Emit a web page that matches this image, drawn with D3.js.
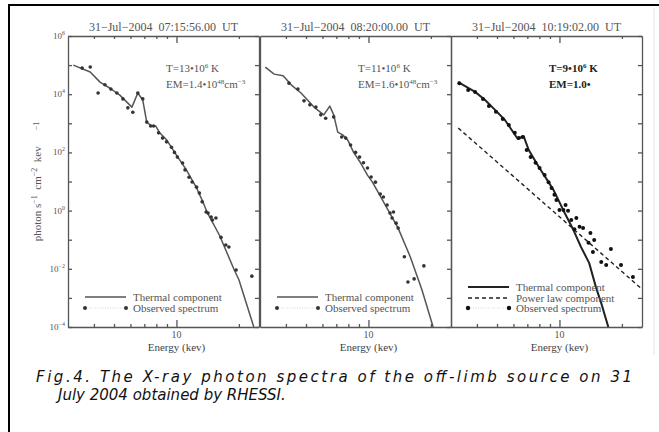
<!DOCTYPE html>
<html lang="en">
<head>
<meta charset="utf-8">
<title>RHESSI photon spectra</title>
<script src="https://cdn.jsdelivr.net/npm/d3@7"></script>
<style>
body { margin: 0; background: #fff; }
svg text { font-family: "Liberation Serif", "DejaVu Serif", serif; fill: #555; }
.caption { font-family: "DejaVu Sans", sans-serif; font-style: italic; fill: #111; font-size: 15px; }
.axis path, .axis line { stroke: #555; stroke-width: 1.3; }
</style>
</head>
<body>
<script>
// panel headers and fit parameters
var titles = ["31\u2212Jul\u22122004  07:15:56.00  UT", "31\u2212Jul\u22122004  08:20:00.00  UT", "31\u2212Jul\u22122004  10:19:02.00  UT"];
var temps = ["13", "11", "9"];
var ems = ["1.4", "1.6", "1.0"];
var energyTicks = [4, 5, 6, 7, 8, 9, 10, 20];
var fluxDecades = [-4, -3, -2, -1, 0, 1, 2, 3, 4, 5, 6];
var fluxLabels = [-4, -2, 0, 2, 4, 6];

// 07:15:56
var obsE1 = [3.51, 3.84, 4.19, 4.52, 4.83, 5.16, 5.52, 5.83, 6.16, 6.51, 6.88, 7.19, 7.51, 7.76, 8.20, 8.57, 8.96, 9.46, 9.78, 10.1, 10.7, 11.0, 11.5, 11.9, 12.5, 12.9, 13.3, 13.9, 14.2, 14.7, 14.9, 15.5, 16.4, 17.3, 17.9, 19.4, 23.1];
var obsF1 = [7.9e4, 8.6e4, 1.1e4, 2.1e4, 1.5e4, 1.1e4, 6.9e3, 3.4e3, 2.4e3, 1.1e4, 6.9e3, 1.1e3, 810, 810, 470, 310, 230, 150, 100, 69, 43, 25, 14, 9.6, 6.4, 4.0, 2.0, 0.9, 0.83, 0.60, 0.475, 0.56, 0.12, 0.066, 0.056, 0.0091, 0.0056];
var thE1 = [3.18, 3.84, 4.28, 4.78, 5.33, 6.10, 6.51, 6.88, 7.19, 7.59, 7.94, 8.30, 8.96, 10, 11.16, 12.5, 13.3, 14.1, 16.1, 19.0, 20.0, 23.6];
var thF1 = [1e5, 5.8e4, 2.6e4, 1.6e4, 9.3e3, 3.6e3, 1.1e4, 6.3e3, 1.1e3, 810, 810, 470, 270, 81, 25, 6.0, 2.3, 0.83, 0.145, 0.0091, 0.0042, 1e-4];

// 08:20:00
var obsE2 = [4.14, 4.57, 4.89, 5.22, 5.58, 5.89, 6.22, 6.80, 7.43, 7.77, 8.20, 8.67, 9.06, 9.46, 9.89, 10.3, 10.8, 11.4, 11.8, 12.3, 12.7, 13.2, 13.0, 13.6, 13.9, 14.9, 15.5, 16.6, 18.5];
var obsF2 = [2.4e4, 1.5e4, 5.9e3, 4.3e3, 3.6e3, 1.95e3, 1.5e3, 1.66e3, 340, 310, 180, 100, 69, 44, 29, 14.3, 9.5, 3.7, 2.95, 1.55, 0.83, 0.89, 0.56, 0.37, 0.25, 0.026, 0.0035, 0.0045, 0.0126];
var thE2 = [3.18, 3.51, 3.88, 4.24, 4.73, 5.46, 6.09, 6.51, 6.80, 7.11, 7.51, 7.94, 8.48, 9.16, 9.89, 10.45, 12.06, 13.9, 15.9, 18.1, 20.5];
var thF2 = [8.5e4, 4.9e4, 4.3e4, 2.1e4, 1.1e4, 3.6e3, 1.95e3, 3.9e3, 1.95e3, 500, 400, 270, 100, 44, 16.6, 9.5, 1.55, 0.25, 0.026, 0.0019, 1e-4];

// 10:19:02
var obsE3 = [3.29, 3.63, 3.92, 4.28, 4.57, 4.94, 5.33, 5.70, 6.09, 6.37, 6.65, 6.95, 7.26, 7.67, 8.02, 8.48, 8.86, 9.16, 9.46, 9.67, 10.0, 10.45, 10.7, 11.0, 11.4, 12.06, 11.8, 12.5, 13.0, 13.8, 14.1, 14.7, 14.5, 15.9, 16.8, 17.7, 19.8, 22.6];
var obsF3 = [2.4e4, 1.4e4, 1.2e4, 6.9e3, 3.9e3, 2.5e3, 1.4e3, 870, 470, 310, 340, 120, 69, 44, 29, 16.6, 9.5, 6.0, 3.5, 2.3, 1.05, 1.05, 1.55, 0.98, 0.48, 0.56, 0.23, 0.28, 0.25, 0.078, 0.17, 0.098, 0.038, 0.017, 0.0135, 0.048, 0.0135, 0.0052];
var thE3 = [3.25, 3.51, 3.92, 4.38, 4.89, 5.46, 6.30, 6.72, 7.11, 7.94, 8.86, 9.36, 9.89, 10.6, 11.7, 12.7, 13.9, 15.0, 15.9, 17.2];
var thF3 = [2.6e4, 1.9e4, 1.2e4, 6.3e3, 2.9e3, 1.3e3, 290, 360, 120, 32, 9.5, 5.1, 2.3, 0.83, 0.21, 0.056, 0.016, 0.0023, 6.6e-4, 1e-4];
var powE3 = [3.25, 25.2];
var powF3 = [690, 0.0019];

var w = 659, h = 432;
var plotTop = 36, plotBottom = 327, pw = 191;
var panelLeft = [68, 260, 451];

var pairs = function(a, b) { return a.map(function(v, i) { return [v, b[i]]; }); };
var panels = [
  {obs: pairs(obsE1, obsF1), th: pairs(thE1, thF1), pow: null},
  {obs: pairs(obsE2, obsF2), th: pairs(thE2, thF2), pow: null},
  {obs: pairs(obsE3, obsF3), th: pairs(thE3, thF3), pow: pairs(powE3, powF3)}
];

var svg = d3.select("body").append("svg").attr("width", w).attr("height", h);

// outer frame (runs off the page to the right and bottom)
svg.append("path").attr("d", "M9,432 L9,5 L659,5").attr("fill", "none").attr("stroke", "#000").attr("stroke-width", 2);
svg.append("line").attr("x1", 654).attr("x2", 654).attr("y1", 8).attr("y2", 355).attr("stroke", "#e4e4e4");

var y = d3.scaleLog().domain([1e-4, 1e6]).range([plotBottom, plotTop]);

function sup(t, base, s, dy) {
  t.append("tspan").text(base);
  t.append("tspan").attr("dy", -(dy || 4)).style("font-size", "7px").text(s);
  return t;
}

panels.forEach(function(p, i) {
  var x0 = panelLeft[i];
  var x = d3.scaleLog().domain([3, 25]).range([x0, x0 + pw]);
  var g = svg.append("g");
  var dark = i === 2;

  g.append("clipPath").attr("id", "clip" + i).append("rect")
    .attr("x", x0).attr("y", plotTop).attr("width", pw).attr("height", plotBottom - plotTop);

  // axes
  var gb = g.append("g").attr("class", "axis").attr("transform", "translate(0," + plotBottom + ")")
    .call(d3.axisBottom(x).tickValues(energyTicks).tickSizeInner(-3).tickSizeOuter(0).tickFormat(""));
  gb.selectAll(".tick line").filter(function(d) { return d === 10; }).attr("y2", -7);
  var gt = g.append("g").attr("class", "axis").attr("transform", "translate(0," + plotTop + ")")
    .call(d3.axisTop(x).tickValues(energyTicks).tickSizeInner(-3).tickSizeOuter(0).tickFormat(""));
  gt.selectAll(".tick line").filter(function(d) { return d === 10; }).attr("y2", 7);
  var decVals = fluxDecades.map(function(e) { return Math.pow(10, e); });
  g.append("g").attr("class", "axis").attr("transform", "translate(" + (x0 + pw) + ",0)")
    .call(d3.axisRight(y).tickValues(decVals).tickSizeInner(-4).tickSizeOuter(0).tickFormat(""));
  g.append("g").attr("class", "axis").attr("transform", "translate(" + x0 + ",0)")
    .call(d3.axisLeft(y).tickValues(i === 0 ? decVals : []).tickSizeInner(-4).tickSizeOuter(0).tickFormat(""));
  g.selectAll(".axis path").attr("stroke-width", 1.8);

  g.append("text").attr("x", x(10)).attr("y", 338).attr("text-anchor", "middle").style("font-size", "10px").text("10");
  g.append("text").attr("x", x(10)).attr("y", 351).attr("text-anchor", "middle").style("font-size", "11px").style("fill", "#444").text("Energy (kev)");

  g.append("text").attr("x", x0 + pw / 2).attr("y", 31).attr("text-anchor", "middle")
    .style("font-size", "12px").style("white-space", "pre").text(titles[i]);

  // fit parameters
  var ann = g.append("g").style("font-size", "11px");
  var t1 = ann.append("text").attr("x", x0 + 98).attr("y", 72).style("font-weight", dark ? "bold" : "normal").style("fill", dark ? "#222" : "#555");
  sup(t1, "T=" + temps[i] + "\u202210", "6");
  t1.append("tspan").attr("dy", 4).text(" K");
  var t2 = ann.append("text").attr("x", x0 + 98).attr("y", 88).style("font-weight", dark ? "bold" : "normal").style("fill", dark ? "#222" : "#555");
  if (dark) {
    t2.text("EM=" + ems[i] + "\u2022");
  } else {
    sup(t2, "EM=" + ems[i] + "\u202210", "48");
    t2.append("tspan").attr("dy", 4).text("cm");
    t2.append("tspan").attr("dy", -4).style("font-size", "7px").text("\u22123");
  }

  var plot = g.append("g").attr("clip-path", "url(#clip" + i + ")");
  var line = d3.line().x(function(d) { return x(d[0]); }).y(function(d) { return y(d[1]); });

  if (p.pow) {
    plot.append("path").datum(p.pow).attr("d", line).attr("fill", "none")
      .attr("stroke", "#222").attr("stroke-width", 1.4).attr("stroke-dasharray", "4,3");
  }
  plot.append("path").datum(p.th).attr("d", line).attr("fill", "none")
    .attr("stroke", dark ? "#222" : "#555").attr("stroke-width", dark ? 2 : 1.5).attr("stroke-linejoin", "round");
  plot.selectAll("circle").data(p.obs).enter().append("circle")
    .attr("cx", function(d) { return x(d[0]); })
    .attr("cy", function(d) { return y(d[1]); })
    .attr("r", dark ? 2 : 1.8)
    .attr("fill", dark ? "#111" : "#333");

  // legend
  var rows = dark ? [287, 298, 308] : [297, 308];
  var leg = g.append("g").style("font-size", "11px");
  var lx1 = x0 + 17, lx2 = x0 + 58, tx = x0 + 65;
  leg.append("line").attr("x1", lx1).attr("x2", lx2).attr("y1", rows[0]).attr("y2", rows[0])
    .attr("stroke", dark ? "#222" : "#555").attr("stroke-width", dark ? 2 : 1.5);
  leg.append("text").attr("x", tx).attr("y", rows[0] + 3.5).text("Thermal component");
  if (dark) {
    leg.append("line").attr("x1", lx1).attr("x2", lx2).attr("y1", rows[1]).attr("y2", rows[1])
      .attr("stroke", "#222").attr("stroke-width", 1.4).attr("stroke-dasharray", "4,3");
    leg.append("text").attr("x", tx).attr("y", rows[1] + 3.5).text("Power law component");
  }
  var ry = rows[rows.length - 1];
  leg.append("line").attr("x1", lx1).attr("x2", lx2).attr("y1", ry).attr("y2", ry)
    .attr("stroke", "#ccc").attr("stroke-width", 0.8).attr("stroke-dasharray", "1,1.5");
  leg.selectAll("circle").data([lx1, lx2]).enter().append("circle")
    .attr("cx", function(d) { return d; }).attr("cy", ry).attr("r", dark ? 2.2 : 2)
    .attr("fill", dark ? "#111" : "#333");
  leg.append("text").attr("x", tx).attr("y", ry + 3.5).text("Observed spectrum");
});

// flux tick labels on the first panel
fluxLabels.forEach(function(e) {
  var t = svg.append("text").attr("x", 65).attr("y", y(Math.pow(10, e)) + 3).attr("text-anchor", "end").style("font-size", "9px");
  t.append("tspan").text("10");
  t.append("tspan").attr("dy", -4).style("font-size", "6px").text(e < 0 ? "\u2212" + (-e) : String(e));
});

// y title
var yl = svg.append("text").attr("transform", "translate(41," + ((plotTop + plotBottom) / 2) + ") rotate(-90)")
  .attr("text-anchor", "middle").style("font-size", "11px").style("white-space", "pre");
yl.append("tspan").text("photon s");
yl.append("tspan").attr("dy", -4).style("font-size", "8px").text("\u22121");
yl.append("tspan").attr("dy", 4).text("  cm");
yl.append("tspan").attr("dy", -4).style("font-size", "8px").text("\u22122");
yl.append("tspan").attr("dy", 4).text("  kev");
yl.append("tspan").attr("dx", 16).attr("dy", -2).style("font-size", "8px").text("\u22121");

// caption, first line stretched to the full width
svg.append("text").attr("class", "caption").attr("x", 36).attr("y", 382)
  .attr("textLength", 596).attr("lengthAdjust", "spacing")
  .text("Fig.4. The X-ray photon spectra of the off-limb source on 31");
svg.append("text").attr("class", "caption").attr("x", 58).attr("y", 400)
  .text("July 2004 obtained by RHESSI.");
</script>
</body>
</html>
